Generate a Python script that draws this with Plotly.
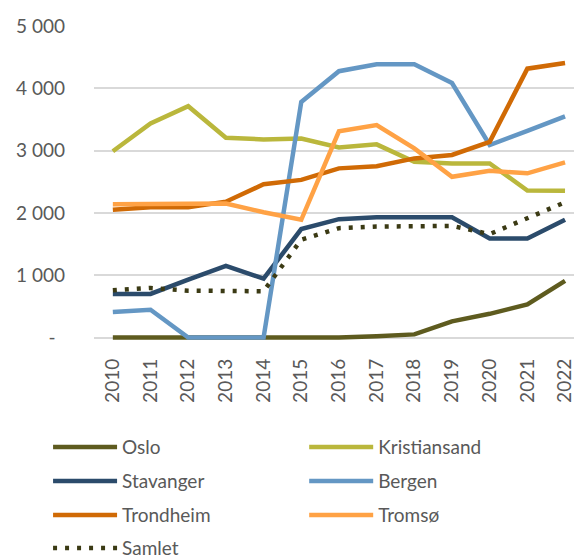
import plotly.graph_objects as go

years = list(range(2010, 2023))
oslo = [0, 0, 0, 0, 0, 0, 0, 20, 50, 260, 380, 530, 910]
kristiansand = [2990, 3435, 3712, 3205, 3180, 3195, 3050, 3100, 2820, 2795, 2795, 2360, 2355]
stavanger = [700, 700, 930, 1150, 945, 1740, 1900, 1930, 1930, 1930, 1590, 1590, 1890]
bergen = [410, 445, 0, 0, 0, 3780, 4275, 4385, 4385, 4085, 3090, 3315, 3550]
trondheim = [2050, 2090, 2090, 2180, 2460, 2530, 2715, 2750, 2875, 2930, 3140, 4315, 4405]
tromso = [2140, 2140, 2140, 2150, 2010, 1890, 3310, 3410, 3035, 2580, 2675, 2635, 2810]
samlet = [757, 795, 752, 742, 742, 1570, 1755, 1780, 1780, 1792, 1660, 1915, 2170]

ytick_vals = [0, 1000, 2000, 3000, 4000, 5000]
ytick_text = ["-\u2002", "1 000", "2 000", "3 000", "4 000", "5 000"]

series = [
    ("Oslo", oslo, "#5E5B1F", "solid", "legend"),
    ("Kristiansand", kristiansand, "#BAB73C", "solid", "legend2"),
    ("Stavanger", stavanger, "#2B4B6B", "solid", "legend3"),
    ("Bergen", bergen, "#6497C4", "solid", "legend4"),
    ("Trondheim", trondheim, "#D06A05", "solid", "legend5"),
    ("Tromsø", tromso, "#FFA245", "solid", "legend6"),
    ("Samlet", samlet, "#3B3A14", "4px,8px", "legend7"),
]

fig = go.Figure()
for name, vals, color, dash, leg in series:
    fig.add_trace(go.Scatter(
        x=years, y=vals, name=name, mode="lines",
        line=dict(color=color, width=4.5, dash=dash),
        legend=leg,
    ))

font_family = "Lato"
txt_color = "#595959"

# legend positions (container coords)
col_x = [0.0698, 0.516]
row_y = [0.2016, 0.1397, 0.0778, 0.0179]
positions = {
    "legend": (col_x[0], row_y[0]),
    "legend2": (col_x[1], row_y[0]),
    "legend3": (col_x[0], row_y[1]),
    "legend4": (col_x[1], row_y[1]),
    "legend5": (col_x[0], row_y[2]),
    "legend6": (col_x[1], row_y[2]),
    "legend7": (col_x[0], row_y[3]),
}
legend_layout = {}
for key, (lx, ly) in positions.items():
    legend_layout[key] = dict(
        x=lx, y=ly, xref="container", yref="container",
        xanchor="left", yanchor="middle", itemwidth=64,
        font=dict(family=font_family, size=19, color=txt_color),
        bgcolor="rgba(0,0,0,0)", borderwidth=0,
    )

fig.update_layout(
    width=574, height=550,
    margin=dict(l=86, r=0, t=17.7, b=217.5, autoexpand=False),
    paper_bgcolor="white", plot_bgcolor="white",
    font=dict(family=font_family, size=19, color=txt_color),
    showlegend=True,
    **legend_layout,
)
fig.update_xaxes(
    range=[2009.5, 2022.45], tickmode="array", tickvals=years,
    ticktext=[str(y) for y in years], tickangle=-90,
    showgrid=False, zeroline=False, showline=False, ticks="",
    ticklabelstandoff=14, automargin=False,
    tickfont=dict(family=font_family, size=19, color=txt_color),
)
fig.update_yaxes(
    range=[-40, 5000], tickmode="array", tickvals=ytick_vals, ticktext=ytick_text,
    showgrid=True, gridcolor="#D9D9D9", gridwidth=1.5,
    zeroline=False, showline=False, ticks="",
    ticklabelstandoff=28, automargin=False,
    tickfont=dict(family=font_family, size=19, color=txt_color),
)

fig.write_html("out.html")
